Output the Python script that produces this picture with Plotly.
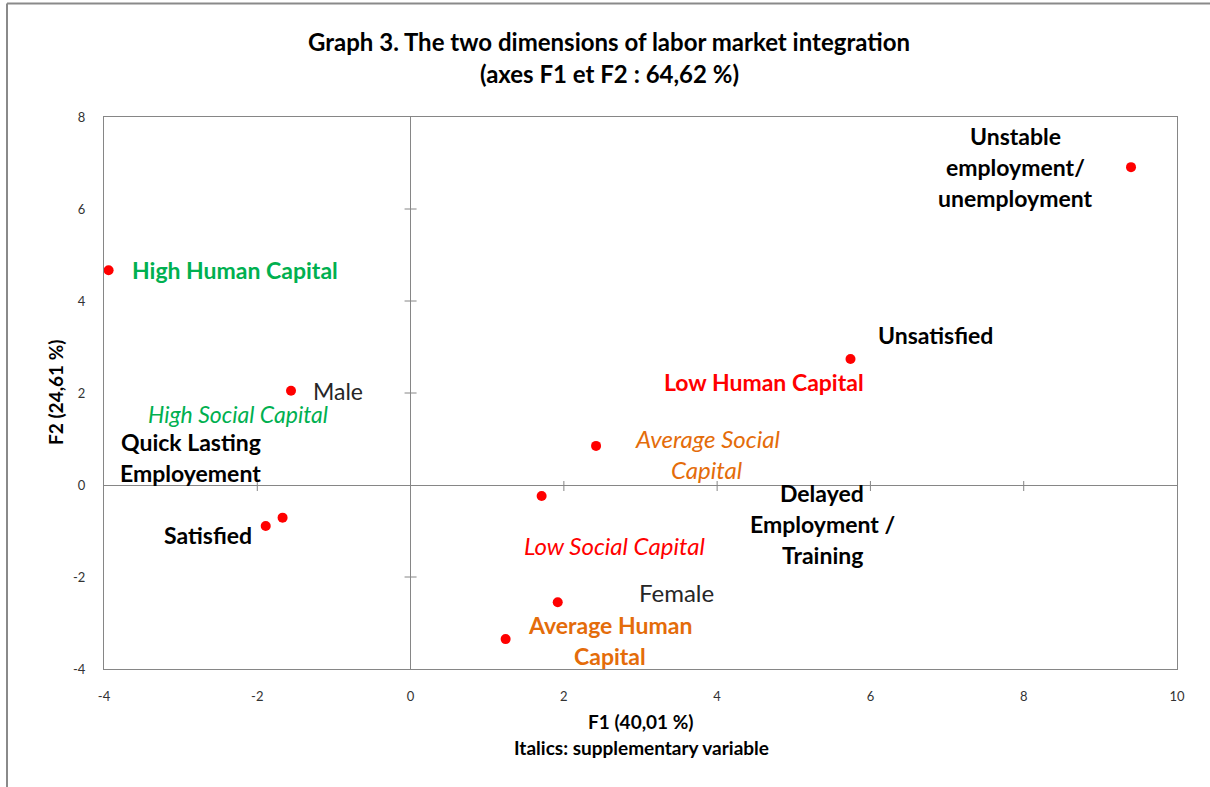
import plotly.graph_objects as go

# ---- data (factor coordinates F1, F2) ----
point_names = ["High Human Capital", "Male", "Satisfied A", "Satisfied B",
               "Average Social Capital", "Low Social Capital", "Female",
               "Average Human Capital", "Low Human Capital", "Unstable employment"]
f1_values = [-3.94, -1.56, -1.89, -1.67, 2.42, 1.71, 1.92, 1.24, 5.74, 9.40]
f2_values = [4.67, 2.05, -0.89, -0.71, 0.85, -0.24, -2.55, -3.35, 2.74, 6.91]

x_tick_values = [-4, -2, 0, 2, 4, 6, 8, 10]
x_tick_labels = ["-4", "-2", "0", "2", "4", "6", "8", "10"]
y_tick_values = [-4, -2, 0, 2, 4, 6, 8]
y_tick_labels = ["-4", "-2", "0", "2", "4", "6", "8"]

title_lines = ["Graph 3. The two dimensions of labor market integration",
               "(axes F1 et F2 : 64,62 %)"]
x_title_lines = ["F1 (40,01 %)", "Italics: supplementary variable"]
y_title = "F2 (24,61 %)"

# ---- styles ----
GREEN = "#00B050"
ORANGE = "#E46C0A"
RED = "#FF0000"
BLACK = "#000000"
DARK = "#262626"
AXIS_GREY = "#868686"
FONT = "Lato"

# label layout: (lines, x, y, anchor, color, bold, italic, size)
labels = [
    (["High Human Capital"], -3.66, 4.67, "left", GREEN, True, False, 23),
    (["Male"], -1.30, 2.05, "left", DARK, False, False, 23),
    (["High Social Capital"], -3.45, 1.54, "left", GREEN, False, True, 23),
    (["Quick Lasting", "Employement"], -2.865, 0.94, "center", BLACK, True, False, 23),
    (["Satisfied"], -3.245, -1.09, "left", BLACK, True, False, 23),
    (["Average Social", "Capital"], 3.87, 1.02, "center", ORANGE, False, True, 24),
    (["Low Social Capital"], 1.45, -1.31, "left", RED, False, True, 24),
    (["Delayed", "Employment /", "Training"], 5.37, -0.18, "center", BLACK, True, False, 23),
    (["Female"], 2.95, -2.34, "left", DARK, False, False, 24),
    (["Average Human", "Capital"], 2.60, -3.04, "center", ORANGE, True, False, 23),
    (["Unsatisfied"], 6.07, 3.26, "left", BLACK, True, False, 23),
    (["Low Human Capital"], 3.28, 2.24, "left", RED, True, False, 23),
    (["Unstable", "employment/", "unemployment"], 7.89, 7.58, "center", BLACK, True, False, 23),
]
LINE_GAP = 31  # px between lines of a label

# page geometry (body margin removed by post_script below)
W, H = 1210, 787
L, T = 104, 117
R = W - 1177
B = H - 669
pw, ph = W - L - R, H - T - B


def px_x(px):
    """screen pixel x -> paper fraction"""
    return (px - L) / pw


def px_y(py):
    """screen pixel y (from top) -> paper fraction"""
    return (H - py - B) / ph


fig = go.Figure()
fig.add_trace(go.Scatter(
    x=f1_values, y=f2_values, mode="markers", text=point_names,
    marker=dict(color=RED, size=10, line=dict(width=0)),
    hoverinfo="text", showlegend=False,
))

annotations = []
for lines, lx, ly, anchor, color, bold, italic, size in labels:
    for i, line in enumerate(lines):
        txt = line
        if bold:
            txt = "<b>" + txt + "</b>"
        if italic:
            txt = "<i>" + txt + "</i>"
        annotations.append(dict(
            x=lx, y=ly, xref="x", yref="y", text=txt, showarrow=False,
            xanchor=anchor, yanchor="middle", yshift=-i * LINE_GAP,
            font=dict(family=FONT, size=size, color=color),
        ))

# titles
for i, line in enumerate(title_lines):
    annotations.append(dict(
        x=px_x(609), y=px_y(41 + i * 32), xref="paper", yref="paper",
        text="<b>" + line + "</b>", showarrow=False, xanchor="center", yanchor="middle",
        font=dict(family=FONT, size=24, color=BLACK),
    ))
for i, line in enumerate(x_title_lines):
    annotations.append(dict(
        x=px_x(641), y=px_y(721 + i * 26), xref="paper", yref="paper",
        text="<b>" + line + "</b>", showarrow=False, xanchor="center", yanchor="middle",
        font=dict(family=FONT, size=19, color=BLACK),
    ))
annotations.append(dict(
    x=px_x(55), y=px_y(392), xref="paper", yref="paper", text="<b>" + y_title + "</b>",
    showarrow=False, xanchor="center", yanchor="middle", textangle=-90,
    font=dict(family=FONT, size=19, color=BLACK),
))

shapes = []
# crossing tick marks on the zero lines
for v in x_tick_values:
    if v not in (x_tick_values[0], x_tick_values[-1], 0):
        shapes.append(dict(type="line", xref="x", yref="y", ysizemode="pixel", yanchor=0,
                           x0=v, x1=v, y0=-6, y1=4, line=dict(color=AXIS_GREY, width=1)))
for v in y_tick_values:
    if v not in (y_tick_values[0], y_tick_values[-1], 0):
        shapes.append(dict(type="line", xref="x", yref="y", xsizemode="pixel", xanchor=0,
                           y0=v, y1=v, x0=-6, x1=6, line=dict(color=AXIS_GREY, width=1)))
# outer frame of the figure (top and left edges)
shapes.append(dict(type="line", xref="paper", yref="paper",
                   x0=px_x(7), x1=px_x(1215), y0=px_y(3.5), y1=px_y(3.5),
                   line=dict(color="#8a8a8a", width=2)))
shapes.append(dict(type="line", xref="paper", yref="paper",
                   x0=px_x(7), x1=px_x(7), y0=px_y(3.5), y1=px_y(790),
                   line=dict(color="#8a8a8a", width=2)))

axis_common = dict(
    showgrid=False, zeroline=True, zerolinecolor=AXIS_GREY, zerolinewidth=1,
    showline=True, linecolor=AXIS_GREY, linewidth=1, mirror=True,
    ticks="outside", ticklen=15, tickcolor="rgba(0,0,0,0)",
    tickfont=dict(family=FONT, size=13, color="#333333"),
)
fig.update_layout(
    width=W, height=H, autosize=False,
    margin=dict(l=L, r=R, t=T, b=B),
    paper_bgcolor="white", plot_bgcolor="white",
    xaxis=dict(range=[-4, 10], tickvals=x_tick_values, ticktext=x_tick_labels, **axis_common),
    yaxis=dict(range=[-4, 8], tickvals=y_tick_values, ticktext=y_tick_labels, **axis_common),
    annotations=annotations, shapes=shapes,
    hovermode=False,
)

fig.write_html("out.html", config={"displayModeBar": False},
               post_script="document.body.style.margin='0px';document.body.style.overflow='hidden';")
